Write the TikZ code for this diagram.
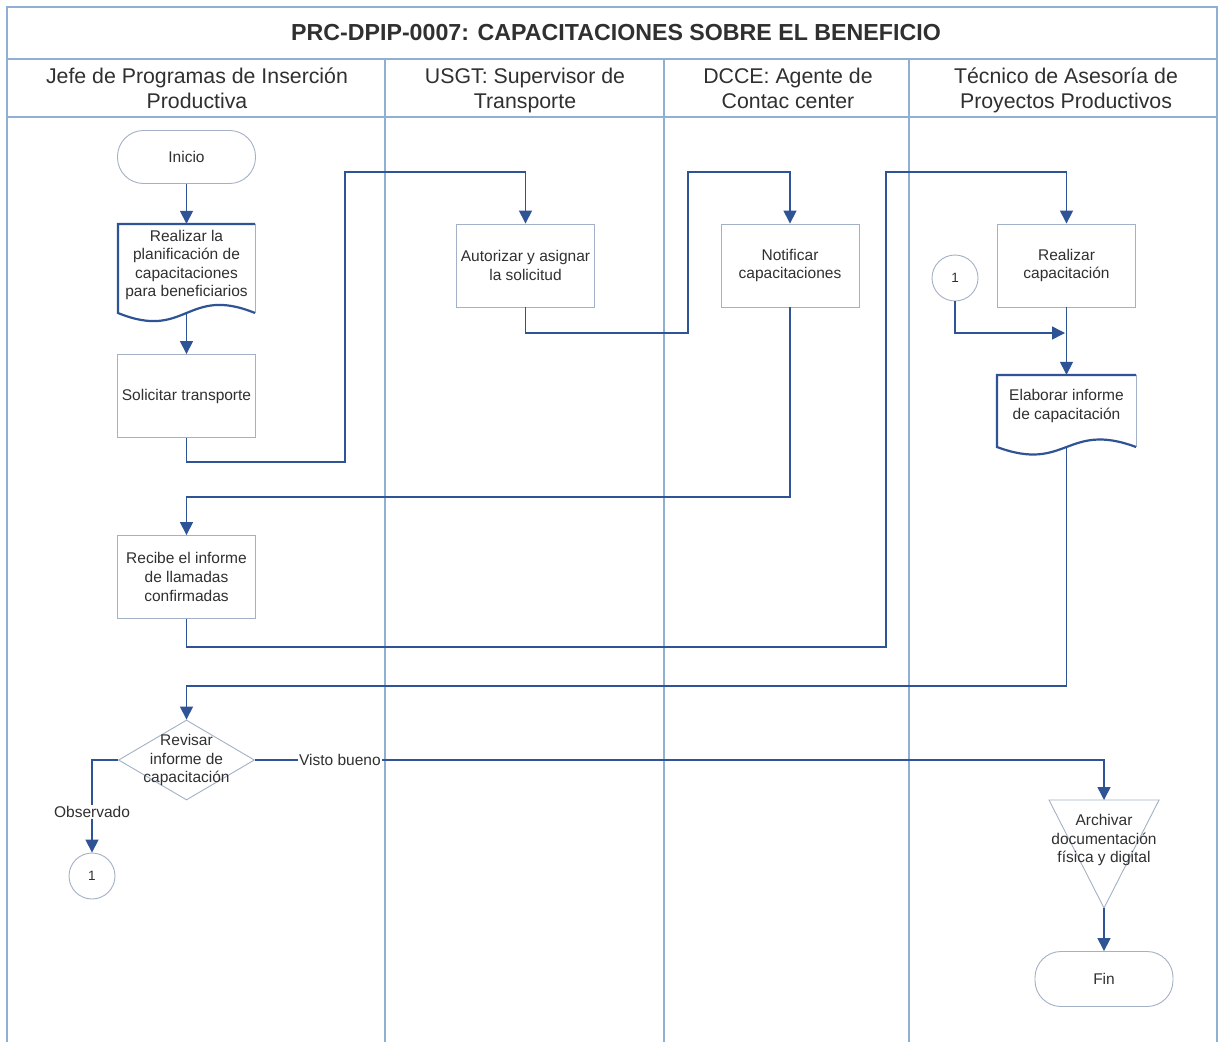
\documentclass[tikz,border=0pt]{standalone}
\usepackage{fontspec}
\setmainfont{Liberation Sans}
\usetikzlibrary{arrows.meta,shapes.geometric}

\definecolor{flowblue}{HTML}{2F5496}
\definecolor{lanecol}{HTML}{8FAFD3}
\definecolor{boxcol}{HTML}{A3B1C6}
\definecolor{inkcol}{HTML}{303030}

\newcommand{\nodefont}{\fontsize{15.5}{18.6}\selectfont}

\tikzset{
  lane/.style={draw=lanecol, line width=1.1pt},
  procbox/.style={draw=boxcol, line width=0.9pt, minimum width=138pt, minimum height=83pt,
    align=center, inner sep=2pt, font=\nodefont, text=inkcol},
  termbox/.style={procbox, rounded corners=26pt, minimum height=53pt},
  docbox/.style={draw=none, minimum width=137pt, align=center, inner sep=2pt,
    font=\nodefont, text=inkcol},
  docthick/.style={draw=flowblue, line width=2.2pt},
  docthin/.style={draw=boxcol, line width=0.9pt},
  conn/.style={circle, draw=boxcol, line width=0.9pt, minimum size=46pt, inner sep=0pt,
    font=\fontsize{13.5}{15}\selectfont, text=inkcol},
  txt/.style={align=center, inner sep=0pt, font=\nodefont, text=inkcol},
  flow/.style={draw=flowblue, line width=1.5pt, -{Triangle[width=13pt,length=13pt]}},
  lbl/.style={fill=white, inner sep=1pt, font=\nodefont, text=inkcol},
  header/.style={align=center, font=\fontsize{21.3}{25}\selectfont, text=inkcol},
}

\begin{document}
\begin{tikzpicture}[x=1pt,y=-1pt]
\useasboundingbox (0,0) rectangle (1222,1042);
\fill[white] (0,0) rectangle (1222,1042);

% frame, title bar and swimlanes
\draw[lane] (7,1042) -- (7,7) -- (1217,7) -- (1217,1042);
\draw[lane] (7,59) -- (1217,59);
\draw[lane] (7,117) -- (1217,117);
\draw[lane] (385,59) -- (385,1042);
\draw[lane] (664,59) -- (664,1042);
\draw[lane] (909,59) -- (909,1042);

\node[font=\fontsize{23.2}{27}\selectfont\bfseries, text=inkcol] (title) at (616,33)
  {PRC-DPIP-0007: CAPACITACIONES SOBRE EL BENEFICIO};
\node[header] (h1) at (197,88) {Jefe de Programas de Inserción\\Productiva};
\node[header] (h2) at (525,90) {USGT: Supervisor de\\Transporte};
\node[header] (h3) at (788,88) {DCCE: Agente de\\Contac center};
\node[header] (h4) at (1066,90) {Técnico de Asesoría de\\Proyectos Productivos};

% process nodes
\node[termbox] (inicio) at (186.5,157) {Inicio};

\node[docbox, minimum height=82pt] (plan) at (186.5,265)
  {Realizar la\\planificación de\\capacitaciones\\para beneficiarios};
\draw[docthin] (255,224) -- (255,313);
\draw[docthick] (255,224) -- (118,224) -- (118,313)
  .. controls (186.5,341) and (186.5,285) .. (255,313);

\node[procbox] (solic) at (186.5,396) {Solicitar transporte};
\node[procbox] (autor) at (525.5,265.5) {Autorizar y asignar\\la solicitud};
\node[procbox] (notif) at (790,265.5) {Notificar\\capacitaciones};
\node[procbox] (realcap) at (1066.5,265.5) {Realizar\\capacitación};
\node[conn] (cin) at (955,278) {1};

\node[docbox, minimum height=62pt] (elab) at (1066.5,406) {Elaborar informe\\de capacitación};
\draw[docthin] (1136,375) -- (1136,447);
\draw[docthick] (1136,375) -- (997,375) -- (997,447)
  .. controls (1066.5,473) and (1066.5,421) .. (1136,447);
\coordinate (elabout) at (1066.5,447);

\node[procbox] (recibe) at (186.5,577) {Recibe el informe\\de llamadas\\confirmadas};

\node[diamond, draw=boxcol, line width=0.9pt, minimum width=136pt, minimum height=80pt,
  inner sep=0pt] (rev) at (186.5,760) {};
\node[txt] (revtxt) at (186.5,760) {Revisar\\informe de\\capacitación};

\node[conn] (cout) at (92,876) {1};

\draw[draw=boxcol, line width=0.9pt] (1049,800) -- (1159,800) -- (1104,908) -- cycle;
\coordinate (archtop) at (1104,800);
\coordinate (archbot) at (1104,908);
\node[txt] (arch) at (1104,840) {Archivar\\documentación\\física y digital};

\node[termbox, minimum height=55pt] (fin) at (1104,979) {Fin};

% connectors
\draw[flow] (inicio.south) -- (plan.north);
\draw[flow] (186.5,313) -- (solic.north);
\draw[flow] (solic.south) |- (345,462) -- (345,172) -| (autor.north);
\draw[flow] (autor.south) |- (688,333) -- (688,172) -| (notif.north);
\draw[flow] (notif.south) |- (186.5,497) -- (recibe.north);
\draw[flow] (recibe.south) |- (886,647) -- (886,172) -| (realcap.north);
\draw[flow] (realcap.south) -- (elab.north);
\draw[flow] (cin.south) |- (1065,333);
\draw[flow] (elabout) |- (186.5,686) -- (rev.north);
\draw[flow] (rev.east) -| node[lbl, pos=0.05] {Visto bueno} (archtop);
\draw[flow] (rev.west) -| node[lbl, pos=0.78] {Observado} (cout.north);
\draw[flow] (archbot) -- (fin.north);
\end{tikzpicture}
\end{document}
